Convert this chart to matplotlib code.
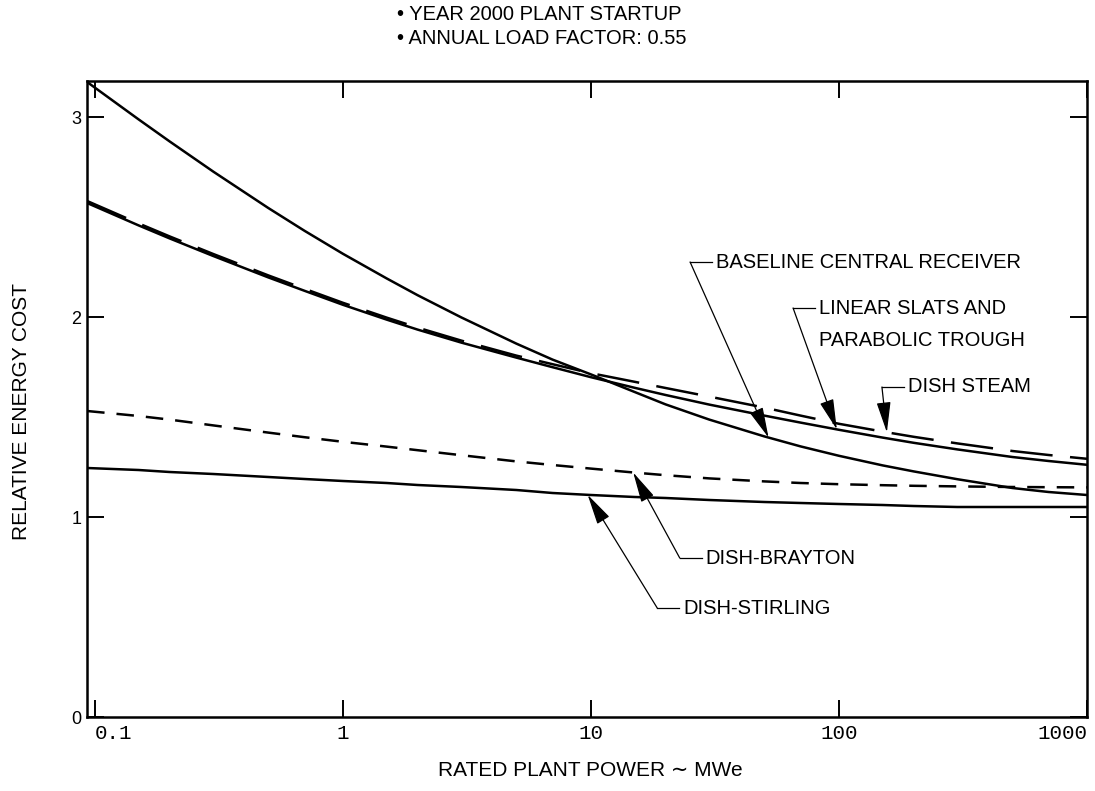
import matplotlib
matplotlib.use("Agg")
import matplotlib.pyplot as plt
import numpy as np

# rated plant power, MWe
power = [0.093, 0.15, 0.2, 0.3, 0.5, 0.7, 1, 1.5, 2, 3, 5, 7, 10, 15, 20,
         30, 50, 70, 100, 150, 200, 300, 500, 700, 1000]

# relative energy cost for each concept
baseline = [3.175, 2.988, 2.878, 2.727, 2.545, 2.431, 2.316, 2.193, 2.109,
            1.998, 1.867, 1.787, 1.713, 1.625, 1.563, 1.487, 1.403, 1.353,
            1.306, 1.258, 1.228, 1.189, 1.145, 1.125, 1.11]
slats = [2.57, 2.458, 2.393, 2.305, 2.198, 2.131, 2.061, 1.987, 1.937, 1.872,
         1.797, 1.749, 1.699, 1.646, 1.61, 1.562, 1.507, 1.472, 1.436, 1.397,
         1.371, 1.338, 1.30, 1.28, 1.261]
steam = [2.58, 2.468, 2.403, 2.315, 2.208, 2.141, 2.071, 1.997, 1.947, 1.882,
         1.807, 1.764, 1.719, 1.676, 1.645, 1.602, 1.547, 1.507, 1.466, 1.427,
         1.401, 1.368, 1.33, 1.31, 1.291]
brayton = [1.53, 1.505, 1.487, 1.458, 1.422, 1.399, 1.376, 1.352, 1.334, 1.309,
           1.278, 1.26, 1.242, 1.222, 1.209, 1.193, 1.178, 1.17, 1.164, 1.159,
           1.156, 1.153, 1.15, 1.149, 1.148]
stirling = [1.245, 1.235, 1.225, 1.215, 1.20, 1.19, 1.18, 1.17, 1.16, 1.15,
            1.135, 1.12, 1.11, 1.10, 1.095, 1.085, 1.075, 1.07, 1.065, 1.06,
            1.055, 1.05, 1.05, 1.05, 1.05]

x_ticks = [0.1, 1, 10, 100, 1000]
x_ticklabels = ["0.1", "1", "10", "100", "1000"]
y_ticks = [0, 1, 2, 3]

# callouts: text, series, leader corner (x, y), arrow tip x
callouts = [
    ("BASELINE CENTRAL RECEIVER", baseline, (25.1, 2.275), 52),
    ("LINEAR SLATS AND", slats, (65.3, 2.045), 98),
    ("DISH STEAM", steam, (149, 1.65), 156),
    ("DISH-BRAYTON", brayton, (22.8, 0.795), 14.8),
    ("DISH-STIRLING", stirling, (18.5, 0.545), 9.7),
]

XMIN, XMAX = 0.0929, 1000
YMIN, YMAX = 0, 3.18
AX_W_PX = 1000

sans = ["Liberation Sans", "DejaVu Sans"]
mono = ["Liberation Mono", "DejaVu Sans Mono"]

fig = plt.figure(figsize=(10.95, 7.91), dpi=100)
ax = fig.add_axes([87 / 1095, 1 - 717 / 791, 1000 / 1095, 636 / 791])

lw = 1.8
ax.plot(power, stirling, color="black", lw=lw)
ax.plot(power, brayton, color="black", lw=lw, linestyle=(0, (7.0, 4.8)))
ax.plot(power, baseline, color="black", lw=lw)
ax.plot(power, slats, color="black", lw=lw)
ax.plot(power, steam, color="black", lw=lw, linestyle=(0, (17.0, 7.0)))

ax.set_xscale("log")
ax.set_xlim(XMIN, XMAX)
ax.set_ylim(YMIN, YMAX)

# pixel offsets along the log axis
px_per_decade = AX_W_PX / np.log10(XMAX / XMIN)


def shift(x, px):
    return x * 10 ** (px / px_per_decade)


for label, series, (cx, cy), tip_x in callouts:
    tip_y = np.interp(np.log10(tip_x), np.log10(power), series)
    ax.annotate("", xy=(tip_x, tip_y), xytext=(cx, cy),
                arrowprops=dict(arrowstyle="-|>,head_length=0.95,head_width=0.22",
                                mutation_scale=20, color="black", lw=0.9,
                                shrinkA=0, shrinkB=0))
    ax.plot([cx, shift(cx, 22)], [cy, cy], color="black", lw=0.9)
    ax.text(shift(cx, 26), cy, label, va="center", ha="left",
            fontsize=14.5, family=sans)

# second line of the trough label
ax.text(shift(65.3, 26), 2.045 - 0.165, "PARABOLIC TROUGH", va="center",
        ha="left", fontsize=14.5, family=sans)

ax.set_xticks(x_ticks)
ax.set_xticklabels(x_ticklabels, family=mono, fontsize=15)
ax.xaxis.set_minor_locator(matplotlib.ticker.NullLocator())
ax.set_yticks(y_ticks)
ax.set_yticklabels([str(v) for v in y_ticks], family=sans, fontsize=13)

ax.tick_params(axis="both", direction="in", length=12, width=1.4,
               top=True, right=True)
ax.tick_params(axis="x", pad=5)
ax.tick_params(axis="y", pad=4)
# the end labels sit inside the frame
ax.get_xticklabels()[0].set_ha("left")
ax.get_xticklabels()[-1].set_ha("right")

for sp in ax.spines.values():
    sp.set_linewidth(1.8)

fig.text(22 / 1095, 1 - 411 / 791, "RELATIVE ENERGY COST", rotation=90,
         ha="center", va="center", fontsize=15, family=sans)
fig.text(590 / 1095, 1 - 770 / 791, "RATED PLANT POWER \u223c MWe",
         ha="center", va="center", fontsize=15, family=sans)

fig.text(397 / 1095, 1 - 15 / 791, "\u2022 YEAR 2000 PLANT STARTUP",
         ha="left", va="center", fontsize=14.5, family=sans)
fig.text(397 / 1095, 1 - 38 / 791, "\u2022 ANNUAL LOAD FACTOR: 0.55",
         ha="left", va="center", fontsize=14.5, family=sans)

fig.savefig("out.png", dpi=100)
